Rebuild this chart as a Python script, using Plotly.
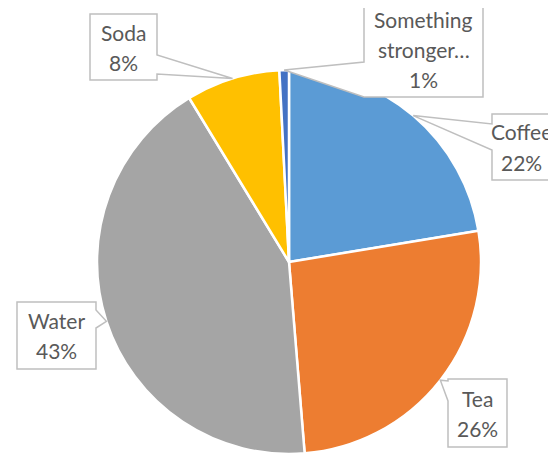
import math
import plotly.graph_objects as go

# ---- data ----
categories = ["Coffee", "Tea", "Water", "Soda", "Something stronger…"]
values = [22.4, 26.3, 42.6, 7.9, 0.8]
colors = ["#5B9BD5", "#ED7D31", "#A5A5A5", "#FFC000", "#4472C4"]
label_lines = [["Coffee"], ["Tea"], ["Water"], ["Soda"], ["Something", "stronger…"]]

# ---- layout constants (screen pixels) ----
OFF = 8              # page body margin
W, H = 556 - OFF, 455 - OFF
CX, CY, R = 289, 262, 192
# callout boxes: (x0, y0, x1, y1, side, attach_a, attach_b)
callouts = [
    (492, 114, 574, 180, "left", 124, 150),
    (448, 379, 507, 447, "left", 381, 401),
    (17, 302, 96, 369, "right", 310, 328),
    (90, 14, 157, 80, "right", 55, 74),
    (364, 2, 483, 97, "left", 62, 97),
]
text_centers_x = [521, None, None, None, None]

def px(x):
    return (x - OFF) / W

def py(y):
    return 1 - (y - OFF) / H

fig = go.Figure()
fig.add_trace(go.Pie(
    labels=categories,
    values=values,
    sort=False,
    direction="clockwise",
    rotation=0,
    textinfo="none",
    hoverinfo="label+percent",
    marker=dict(colors=colors, line=dict(color="white", width=2.5)),
    domain=dict(x=[px(CX - R), px(CX + R)], y=[py(CY + R), py(CY - R)]),
    showlegend=False,
))

total = sum(values)
cum = 0.0
shapes = []
annotations = []
for i, v in enumerate(values):
    mid = (cum + v / 2) / total * 2 * math.pi
    cum += v
    tx = CX + R * math.sin(mid)
    ty = CY - R * math.cos(mid)
    x0, y0, x1, y1, side, a, b = callouts[i]
    if side == "left":
        pts = [(x0, y0), (x1, y0), (x1, y1), (x0, y1), (x0, b), (tx, ty), (x0, a)]
    else:
        pts = [(x0, y0), (x1, y0), (x1, a), (tx, ty), (x1, b), (x1, y1), (x0, y1)]
    path = "M " + " L ".join(f"{px(x):.5f},{py(y):.5f}" for x, y in pts) + " Z"
    shapes.append(dict(type="path", xref="paper", yref="paper", path=path,
                       line=dict(color="#BFBFBF", width=1.5), fillcolor="white", layer="above"))
    pct = f"{round(v / total * 100)}%"
    lines = label_lines[i] + [pct]
    n = len(lines)
    bc = (y0 + y1) / 2
    xc = text_centers_x[i] if text_centers_x[i] is not None else (x0 + x1) / 2
    for k, t in enumerate(lines):
        yy = bc + (k - (n - 1) / 2) * 30
        annotations.append(dict(x=px(xc), y=py(yy), xref="paper", yref="paper",
                                text=t, showarrow=False, xanchor="center", yanchor="middle",
                                font=dict(family="Lato", size=21, color="#595959")))

fig.update_layout(
    width=W, height=H,
    margin=dict(l=0, r=0, t=0, b=0),
    paper_bgcolor="white", plot_bgcolor="white",
    shapes=shapes, annotations=annotations,
)
fig.write_html("out.html")
